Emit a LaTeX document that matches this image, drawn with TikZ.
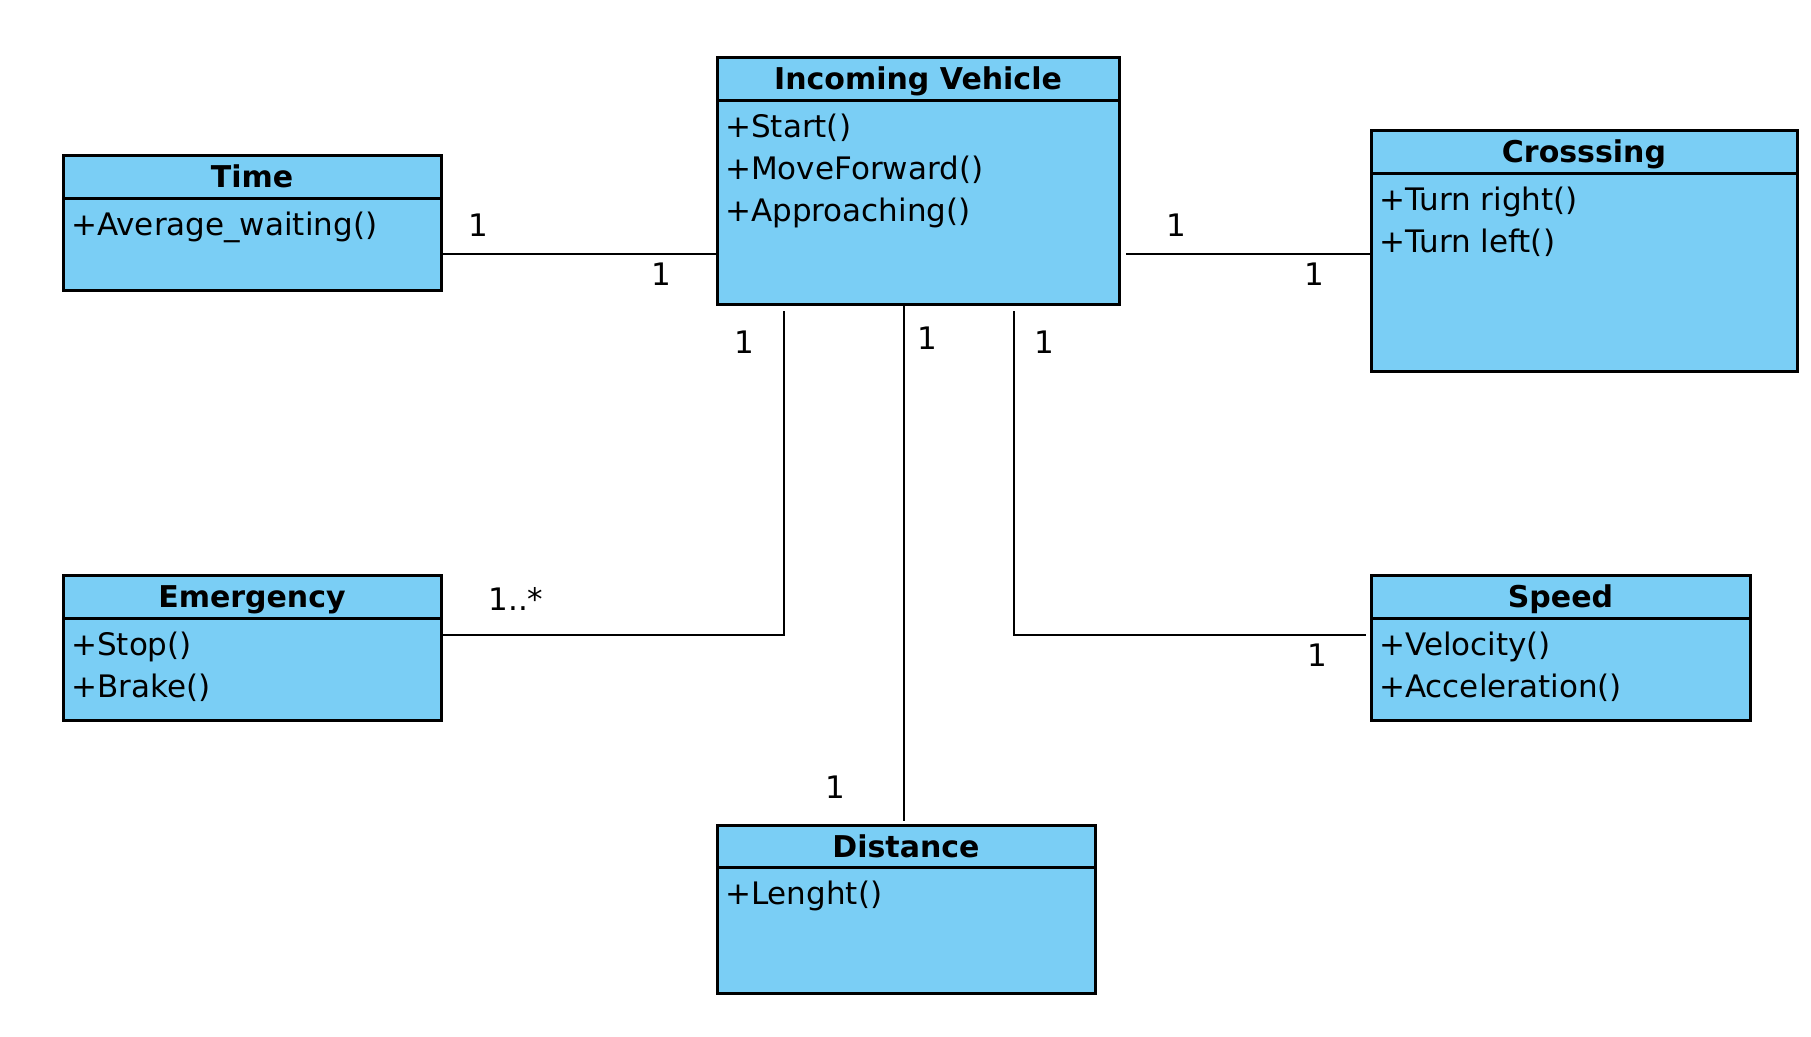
\documentclass[tikz,border=0pt]{standalone}
\usepackage{fontspec}
\setmainfont{DejaVu Sans}
\usetikzlibrary{positioning}
\definecolor{classblue}{RGB}{122,206,245}
\tikzset{
 classhead/.style={
 rectangle,
 draw=black,
 fill=classblue,
 line width=3pt,
 anchor=north west,
 inner sep=0pt,
 outer sep=0pt,
 minimum height=43pt,
 text height=24pt,
 text depth=2pt,
 font=\fontsize{30}{36}\selectfont\bfseries
 },
 classbody/.style={
 rectangle,
 draw=black,
 fill=classblue,
 line width=3pt,
 inner sep=0pt,
 outer sep=0pt
 },
 methods/.style={
 anchor=north west,
 inner sep=0pt,
 align=left,
 font=\fontsize{31}{42}\selectfont
 },
 mult/.style={inner sep=0pt, font=\fontsize{31}{36}\selectfont},
 assoc/.style={line width=2.6pt, draw=black}
}

\begin{document}
\begin{tikzpicture}[x=1pt, y=-1pt]
 \useasboundingbox (0,0) rectangle (1811,1036);

 % classes
 \node[classhead, minimum width=402pt] (vehh) at (717,57) {Incoming Vehicle};
 \node[classbody, below=0pt of vehh, minimum width=402pt, minimum height=204pt] (vehb) {};
 \node[methods] (vehm) at ([xshift=8pt, yshift=-14pt]vehb.north west) {+Start()\\+MoveForward()\\+Approaching()};

 \node[classhead, minimum width=378pt] (timeh) at (63,155) {Time};
 \node[classbody, below=0pt of timeh, minimum width=378pt, minimum height=92pt] (timeb) {};
 \node[methods] (timem) at ([xshift=8pt, yshift=-14pt]timeb.north west) {+Average\_waiting()};

 \node[classhead, minimum width=426pt] (crossh) at (1371,130) {Crosssing};
 \node[classbody, below=0pt of crossh, minimum width=426pt, minimum height=198pt] (crossb) {};
 \node[methods] (crossm) at ([xshift=8pt, yshift=-14pt]crossb.north west) {+Turn right()\\+Turn left()};

 \node[classhead, minimum width=378pt] (emergh) at (63,575) {Emergency};
 \node[classbody, below=0pt of emergh, minimum width=378pt, minimum height=102pt] (emergb) {};
 \node[methods] (emergm) at ([xshift=8pt, yshift=-14pt]emergb.north west) {+Stop()\\+Brake()};

 \node[classhead, minimum width=379pt] (speedh) at (1371,575) {Speed};
 \node[classbody, below=0pt of speedh, minimum width=379pt, minimum height=102pt] (speedb) {};
 \node[methods] (speedm) at ([xshift=8pt, yshift=-14pt]speedb.north west) {+Velocity()\\+Acceleration()};

 \node[classhead, minimum width=378pt, minimum height=42pt] (disth) at (717,825) {Distance};
 \node[classbody, below=0pt of disth, minimum width=378pt, minimum height=126pt] (distb) {};
 \node[methods] (distm) at ([xshift=8pt, yshift=-14pt]distb.north west) {+Lenght()};

 % associations
 \coordinate (lvlTop) at (0,254);
 \coordinate (crStart) at (1126,254);
 \coordinate (emTop) at (784,311);
 \coordinate (emBend) at (784,635);
 \coordinate (diTop) at (904,306);
 \coordinate (diEnd) at (904,821);
 \coordinate (spTop) at (1014,311);
 \coordinate (spBend) at (1014,635);
 \coordinate (spEnd) at (1366,635);

 \draw[assoc] (timeb.east |- lvlTop) -- (vehb.west |- lvlTop);
 \draw[assoc] (crStart) -- (crossb.west |- crStart);
 \draw[assoc] (emTop) -- (emBend) -- (emergb.east |- emBend);
 \draw[assoc] (diTop) -- (diEnd);
 \draw[assoc] (spTop) -- (spBend) -- (spEnd);

 % multiplicities
 \node[mult] (mTiA) at (478,225) {1};
 \node[mult] (mTiB) at (661,274) {1};
 \node[mult] (mCrA) at (1176,225) {1};
 \node[mult] (mCrB) at (1314,274) {1};
 \node[mult] (mEmA) at (744,342) {1};
 \node[mult] (mEmB) at (516,599) {1..*};
 \node[mult] (mDiA) at (927,338) {1};
 \node[mult] (mDiB) at (835,787) {1};
 \node[mult] (mSpA) at (1044,342) {1};
 \node[mult] (mSpB) at (1317,655) {1};
\end{tikzpicture}
\end{document}
